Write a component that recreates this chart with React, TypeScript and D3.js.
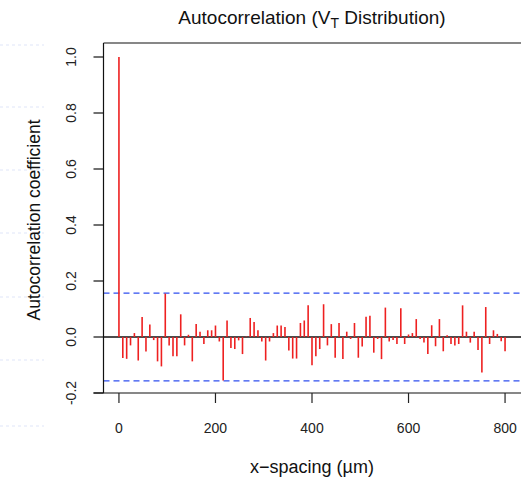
import React from 'react';
import * as d3 from 'd3';

const lagSpacing = 8;
const acfValues = [
  1.0, -0.075, -0.078, -0.03, 0.014, -0.084, 0.071, -0.052, 0.045, -0.011,
  -0.087, -0.105, 0.155, -0.03, -0.069, -0.069, 0.081, -0.03, 0.008, -0.087,
  0.046, 0.019, -0.025, 0.024, 0.024, 0.041, -0.016, -0.155, 0.059, -0.039,
  -0.043, -0.012, -0.061, 0.002, 0.068, 0.054, 0.024, -0.016, -0.084, -0.016,
  0.014, 0.041, 0.041, 0.036, -0.048, -0.077, -0.077, 0.05, 0.059, 0.113,
  -0.101, -0.069, -0.043, 0.117, -0.03, 0.046, -0.074, 0.05, -0.079, 0.019,
  -0.007, 0.05, -0.074, -0.034, 0.072, 0.076, -0.056, -0.007, -0.079, 0.105,
  -0.016, -0.011, -0.025, 0.103, -0.025, 0.009, 0.014, 0.064, -0.007, -0.02,
  -0.061, 0.042, -0.033, 0.064, -0.051, 0.006, -0.025, -0.03, -0.025, 0.113,
  0.019, -0.02, 0.019, -0.046, -0.127, 0.107, -0.025, 0.024, 0.011, -0.015,
  -0.051,
];
const confLimit = 0.157;
const xTicks = [0, 200, 400, 600, 800];
const yTicks = [-0.2, 0.0, 0.2, 0.4, 0.6, 0.8, 1.0];
const titleText = ['Autocorrelation (V', 'T', ' Distribution)'];
const xTitle = 'x\u2212spacing (\u00b5m)';
const yTitle = 'Autocorrelation coefficient';

const FONT = '"Liberation Sans", Arial, Helvetica, sans-serif';

export default function App() {
  const W = 521;
  const H = 481;
  const x = d3.scaleLinear().domain([-32, 832]).range([103.5, 520.5]);
  const y = d3.scaleLinear().domain([-0.2, 1.0]).range([393, 57]);
  const left = x(-32);
  const right = W;
  const top = y(1.05);
  const bottom = y(-0.2);
  const data = acfValues.map((v, i) => ({ lag: i * lagSpacing, v }));
  const faintRows = [45, 107, 170, 233, 297, 360, 426];

  return (
    <svg width={W} height={H} style={{ position: 'absolute', left: 0, top: 0, background: '#fff' }}>
      <rect x={0} y={0} width={W} height={H} fill="#fff" />
      {faintRows.map((fy, i) => (
        <line key={'f' + i} x1={0} x2={44} y1={fy} y2={fy} stroke="#dfe5f8" strokeWidth={1} strokeDasharray="3,3" />
      ))}
      {/* title */}
      <text x={312} y={24} textAnchor="middle" fontFamily={FONT} fontSize={19} fill="#111">
        {titleText[0]}
        <tspan dy={4} fontSize={14}>{titleText[1]}</tspan>
        <tspan dy={-4}>{titleText[2]}</tspan>
      </text>
      {/* confidence lines */}
      {[confLimit, -confLimit].map((c, i) => (
        <line key={'c' + i} x1={left} x2={right} y1={y(c)} y2={y(c)} stroke="#2f4ff0" strokeWidth={1.3} strokeDasharray="6,4" />
      ))}
      {/* zero line */}
      <line x1={left} x2={right} y1={y(0)} y2={y(0)} stroke="#111" strokeWidth={1.5} />
      {/* bars */}
      {data.map((d, i) => (
        <line key={'b' + i} x1={x(d.lag)} x2={x(d.lag)} y1={y(0)} y2={y(d.v)} stroke="#ee2020" strokeWidth={1.6} />
      ))}
      {/* frame */}
      <line x1={left} x2={left} y1={top} y2={bottom} stroke="#111" strokeWidth={1.2} />
      <line x1={left} x2={right} y1={top} y2={top} stroke="#111" strokeWidth={1.2} />
      <line x1={left - 10} x2={right} y1={bottom} y2={bottom} stroke="#111" strokeWidth={1.2} />
      {/* y ticks */}
      {yTicks.map((t, i) => (
        <g key={'yt' + i}>
          <line x1={left - 10} x2={left} y1={y(t)} y2={y(t)} stroke="#111" strokeWidth={1.2} />
          <text
            transform={`translate(${76},${y(t)}) rotate(-90)`}
            textAnchor="middle"
            fontFamily={FONT}
            fontSize={14}
            fill="#222"
          >
            {t.toFixed(1)}
          </text>
        </g>
      ))}
      {/* x ticks */}
      {xTicks.map((t, i) => (
        <g key={'xt' + i}>
          <line x1={x(t)} x2={x(t)} y1={bottom} y2={bottom + 10} stroke="#222" strokeWidth={1.2} />
          <text x={x(t)} y={433} textAnchor="middle" fontFamily={FONT} fontSize={14} fill="#222">
            {String(t)}
          </text>
        </g>
      ))}
      {/* axis titles */}
      <text x={312} y={473} textAnchor="middle" fontFamily={FONT} fontSize={18} fill="#111">
        {xTitle}
      </text>
      <text
        transform={`translate(${40},${220}) rotate(-90)`}
        textAnchor="middle"
        fontFamily={FONT}
        fontSize={17.5}
        fill="#111"
      >
        {yTitle}
      </text>
    </svg>
  );
}
